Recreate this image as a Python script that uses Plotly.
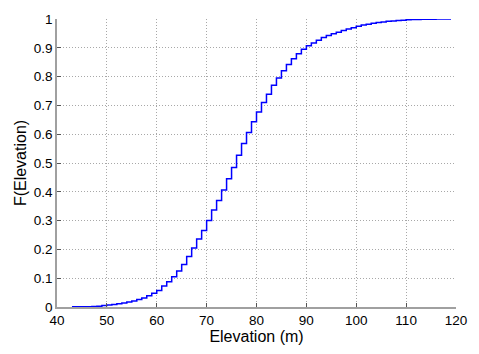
import plotly.graph_objects as go

# Empirical CDF of elevation, one step per metre
elevation = list(range(43, 120))
cdf = [
    0.001, 0.001, 0.001, 0.001, 0.002, 0.003, 0.005,            # 43-49
    0.007, 0.009, 0.011, 0.014, 0.017, 0.021, 0.026, 0.031, 0.039, 0.048,  # 50-59
    0.057, 0.073, 0.088, 0.105, 0.125, 0.148, 0.175, 0.205, 0.236, 0.266,  # 60-69
    0.300, 0.337, 0.370, 0.406, 0.445, 0.484, 0.527, 0.568, 0.606, 0.643,  # 70-79
    0.677, 0.710, 0.739, 0.770, 0.795, 0.820, 0.842, 0.862, 0.879, 0.895,  # 80-89
    0.907, 0.917, 0.926, 0.936, 0.943, 0.949, 0.954, 0.960, 0.965, 0.970,  # 90-99
    0.975, 0.979, 0.982, 0.985, 0.988, 0.990, 0.992, 0.993, 0.995, 0.996,  # 100-109
    0.997, 0.998, 0.998, 0.999, 0.999, 0.999, 1.000, 1.000, 1.000, 1.000,  # 110-119
]

x_ticks = list(range(40, 121, 10))
y_ticks = [round(i * 0.1, 1) for i in range(11)]
y_tick_text = ["0", "0.1", "0.2", "0.3", "0.4", "0.5", "0.6", "0.7", "0.8", "0.9", "1"]

fig = go.Figure(
    go.Scatter(
        x=elevation,
        y=cdf,
        mode="lines",
        line=dict(color="#0000ff", width=1.5, shape="hv"),
        showlegend=False,
        hoverinfo="skip",
    )
)

font = "Liberation Sans, Arial, sans-serif"
axis_common = dict(
    showgrid=True,
    gridcolor="#a8a8a8",
    griddash="1px,2px",
    gridwidth=1,
    zeroline=False,
    showline=True,
    linecolor="#a0a0a0",
    linewidth=1.5,
    ticks="inside",
    ticklen=4,
    tickcolor="#555555",
    tickfont=dict(family=font, size=13.5, color="#000000"),
    mirror=False,
)

fig.update_layout(
    width=479,
    height=354,
    margin=dict(l=57, r=19, t=13, b=43),
    paper_bgcolor="white",
    plot_bgcolor="white",
    xaxis=dict(
        range=[40, 120],
        tickvals=x_ticks,
        title=dict(text="Elevation (m)", font=dict(family=font, size=16, color="#000000"), standoff=3),
        **axis_common,
    ),
    yaxis=dict(
        range=[0, 1],
        tickvals=y_ticks,
        ticktext=y_tick_text,
        title=dict(text="F(Elevation)", font=dict(family=font, size=16, color="#000000"), standoff=3),
        **axis_common,
    ),
)

fig.write_html("out.html")
